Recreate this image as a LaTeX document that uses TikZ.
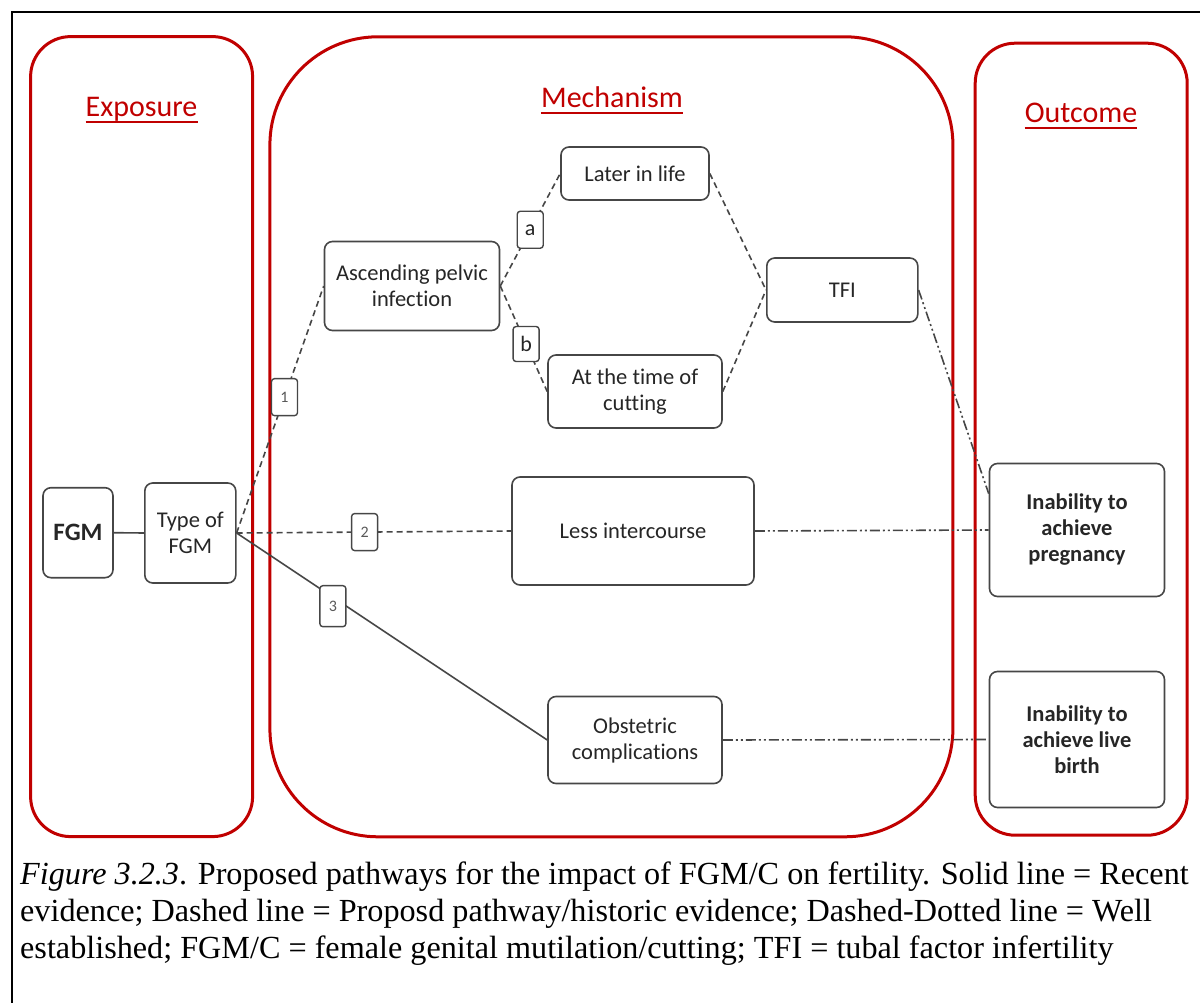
\documentclass[tikz,border=0pt]{standalone}
\usepackage{fontspec}
\setmainfont{Carlito}[Ligatures=NoCommon]
\newfontfamily\fuentepie{Liberation Serif}
\usepackage{xcolor}
\usetikzlibrary{positioning, calc}

\definecolor{rojo}{RGB}{192,0,0}
\definecolor{gris}{RGB}{70,70,70}

\begin{document}
\begin{tikzpicture}[
		x=1pt, y=-1pt, % un punto por pixel, eje y hacia abajo
		% --- Estilos ---
		marco_rojo/.style={
			draw=rojo,
			line width=3pt,
			rectangle,
			inner sep=0pt
		},
		titulo/.style={
			text=rojo,
			font=\fontsize{30}{36}\selectfont,
			anchor=base,
			inner sep=0pt
		},
		caja/.style={
			draw=gris,
			rectangle,
			rounded corners=8pt,
			line width=1.6pt,
			fill=white,
			align=center,
			text=black!85,
			font=\fontsize{22.5}{26}\selectfont,
			inner sep=0pt
		},
		caja_negrita/.style={
			caja,
			font=\fontsize{22.5}{26}\selectfont\bfseries
		},
		etiqueta/.style={
			draw=gris,
			solid,
			rectangle,
			rounded corners=3pt,
			line width=1.4pt,
			fill=white,
			text=black!85,
			font=\fontsize{22}{24}\selectfont,
			minimum width=26pt,
			minimum height=37pt,
			inner sep=0pt
		},
		etiqueta_num/.style={
			etiqueta,
			text=black!65,
			font=\fontsize{16}{18}\selectfont
		},
		linea/.style={
			draw=gris,
			line width=1.6pt
		},
		% Estilo para las vias propuestas
		linea_discontinua/.style={
			linea,
			dash pattern=on 6pt off 4pt
		},
		% Estilo para las vias bien establecidas
		linea_punteada/.style={
			linea,
			dash pattern=on 10pt off 3pt on 2pt off 3pt on 2pt off 3pt
		},
		pie/.style={
			anchor=base west,
			inner sep=0pt,
			font=\fuentepie\fontsize{32.2}{37}\selectfont
		}
		]
		\useasboundingbox (0,0) rectangle (1200,1003);
		\draw[line width=2pt] (11.5,12) rectangle (1206,1010);
		
		% 1. Contenedores rojos: Exposicion, Mecanismo, Resultado
		\node[marco_rojo, rounded corners=40pt, minimum width=222pt, minimum height=800pt] (exposicion) at (141.6,436.6) {};
		\node[marco_rojo, rounded corners=108pt, minimum width=683pt, minimum height=800pt] (mecanismo) at (611.4,436.8) {};
		\node[marco_rojo, rounded corners=40pt, minimum width=212pt, minimum height=792pt] (resultado) at (1081.2,439.2) {};
		
		\node[titulo] (tit_exp) at (141.6,117) {Exposure};
		\node[titulo] (tit_mec) at (612,108) {Mechanism};
		\node[titulo] (tit_res) at (1081,123) {Outcome};
		\foreach \t in {tit_exp, tit_mec, tit_res}
		\draw[rojo, line width=2pt] ($(\t.base west)+(0,5)$) -- ($(\t.base east)+(0,5)$);
		
		% 2. Nodos: Exposicion
		\node[caja, minimum width=70pt, minimum height=90pt, font=\fontsize{25}{28}\selectfont\bfseries] (fgm) at (78,532.7) {FGM};
		\node[caja, minimum width=91pt, minimum height=100pt] (tipo) at (190.3,533) {Type of\\FGM};
		
		% 3. Nodos: Mecanismo
		\node[caja, minimum width=175pt, minimum height=89pt] (pelvica) at (412,286) {Ascending pelvic\\infection};
		\node[caja, minimum width=148pt, minimum height=53pt] (tarde) at (635,173.5) {Later in life};
		\node[caja, minimum width=174pt, minimum height=73pt] (corte) at (635,391.5) {At the time of\\cutting};
		\node[caja, minimum width=151pt, minimum height=64pt] (tfi) at (842.3,290) {TFI};
		\node[caja, minimum width=242pt, minimum height=108pt] (menos) at (633,531) {Less intercourse};
		\node[caja, minimum width=174pt, minimum height=87pt] (obstetricas) at (635,740) {Obstetric\\complications};
		
		% 4. Nodos: Resultado
		\node[caja_negrita, minimum width=175pt, minimum height=133pt] (embarazo) at (1077,530) {Inability to\\achieve\\pregnancy};
		\node[caja_negrita, minimum width=175pt, minimum height=136pt] (nacido) at (1077,739.5) {Inability to\\achieve live\\birth};
		
		% 5. Conexiones
		\draw[linea] (fgm.east) -- (tipo.west);
		\draw[linea_discontinua] (tipo.east) -- node[etiqueta_num, pos=0.55] (via1) {1} (pelvica.west);
		\draw[linea_discontinua] (tipo.east) -- node[etiqueta_num, pos=0.466] (via2) {2} (menos.west);
		\draw[linea] (tipo.east) -- node[etiqueta_num, pos=0.31, yshift=-9pt, minimum height=41pt] (via3) {3} (obstetricas.west);
		
		\draw[linea_discontinua] (pelvica.east) -- node[etiqueta, pos=0.5] (via_a) {a} (tarde.west);
		\draw[linea_discontinua] (pelvica.east) -- node[etiqueta, pos=0.55, minimum height=35pt] (via_b) {b} (corte.west);
		\draw[linea_discontinua] (tarde.east) -- (tfi.west);
		\draw[linea_discontinua] (corte.east) -- (tfi.west);
		
		\coordinate (entrada_emb) at ($(embarazo.north west)!0.23!(embarazo.south west)$);
		\draw[linea_punteada] (tfi.east) -- (entrada_emb);
		\draw[linea_punteada] (menos.east) -- (embarazo.west);
		\draw[linea_punteada] (obstetricas.east) -- (nacido.west);
		
		% 6. Pie de figura
		\node[pie] (pie_1) at (20,884) {\textit{Figure 3.2.3}. Proposed pathways for the impact of FGM/C on fertility. Solid line = Recent};
		\node[pie] (pie_2) at (20,921) {evidence; Dashed line = Proposd pathway/historic evidence; Dashed-Dotted line = Well};
		\node[pie] (pie_3) at (20,958) {established; FGM/C = female genital mutilation/cutting; TFI = tubal factor infertility};
		
	\end{tikzpicture}
\end{document}
